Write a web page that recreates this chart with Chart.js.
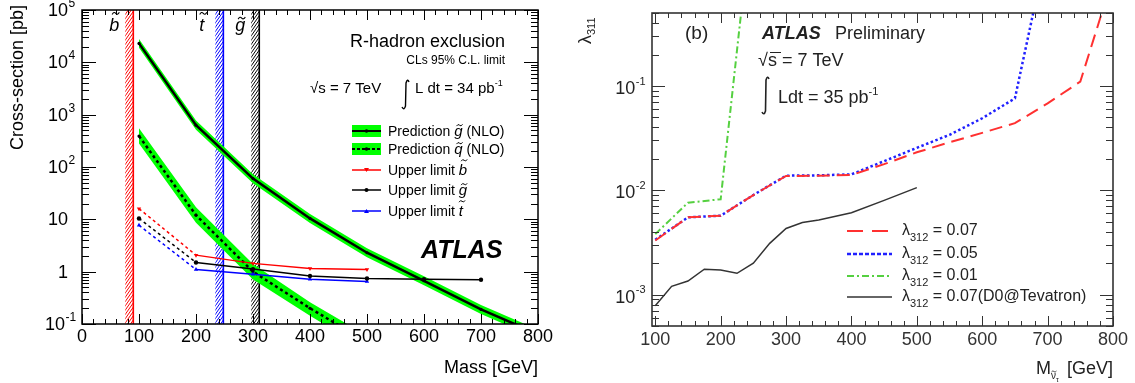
<!DOCTYPE html>
<html>
<head>
<meta charset="utf-8">
<script src="https://cdn.jsdelivr.net/npm/chart.js@4/dist/chart.umd.min.js"></script>
<style>
body { margin: 0; background: #fff; width: 1135px; height: 383px; overflow: hidden; position: relative; }
#leftBox { position: absolute; left: 0; top: 0; width: 560px; height: 383px; }
#rightBox { position: absolute; left: 560px; top: 0; width: 575px; height: 383px; }
</style>
</head>
<body>
<div id="leftBox"><canvas id="rhadronChart" width="560" height="383"></canvas></div>
<div id="rightBox"><canvas id="lambdaChart" width="575" height="383"></canvas></div>
<script>
var FONT = '"Liberation Sans", Arial, Helvetica, sans-serif';

// R-hadron cross-sections [pb] against mass [GeV]
var predMass = [100, 200, 300, 400, 500, 600, 700, 800];
var gluinoXsec = [23000, 630, 60, 10.4, 2.3, 0.67, 0.19, 0.064];
var gluinoXsecUp = [28000, 770, 73, 12.7, 2.8, 0.82, 0.23, 0.078];
var gluinoXsecDown = [18900, 515, 49, 8.5, 1.89, 0.55, 0.156, 0.052];
var squarkMass = [100, 200, 300, 400, 500];
var squarkXsec = [390, 12, 1.0, 0.2, 0.045];
var squarkXsecUp = [550, 17, 1.4, 0.26, 0.06];
var squarkXsecDown = [280, 8.6, 0.71, 0.143, 0.032];
var limitMass = [100, 200, 300, 400, 500];
var sbottomLimit = [16, 2.07, 1.44, 1.15, 1.1];
var stopLimit = [7.7, 1.1, 0.89, 0.72, 0.65];
var gluinoLimitMass = [100, 200, 300, 400, 500, 600, 700];
var gluinoLimit = [10.4, 1.5, 1.12, 0.83, 0.74, 0.72, 0.70];
var excludedMass = [90, 248, 311];
var excludedLetter = ['b', 't', 'g'];
var excludedColor = ['#ff0000', '#0000ff', '#000000'];
var massTicks = [0, 100, 200, 300, 400, 500, 600, 700, 800];
var xsecDecades = [-1, 0, 1, 2, 3, 4, 5];

// lambda_311 limits against sneutrino mass [GeV]
var d0Mass = [100, 125, 150, 175, 200, 225, 250, 275, 300, 325, 350, 400, 450, 500];
var d0Lambda = [7.8e-4, 1.2e-3, 1.35e-3, 1.75e-3, 1.72e-3, 1.6e-3, 2.0e-3, 3.1e-3, 4.3e-3, 4.9e-3, 5.2e-3, 6.1e-3, 8.0e-3, 1.06e-2];
var l007Mass = [100, 150, 200, 250, 300, 350, 400, 450, 500, 550, 600, 650, 700, 750, 800];
var l007Lambda = [3.3e-3, 5.5e-3, 5.7e-3, 9.0e-3, 1.37e-2, 1.38e-2, 1.40e-2, 1.78e-2, 2.31e-2, 2.88e-2, 3.55e-2, 4.4e-2, 6.8e-2, 0.11, 1.1];
var l005Mass = [100, 150, 200, 250, 300, 350, 400, 450, 500, 550, 600, 650, 700];
var l005Lambda = [3.35e-3, 5.5e-3, 5.7e-3, 9.0e-3, 1.38e-2, 1.39e-2, 1.42e-2, 1.9e-2, 2.55e-2, 3.4e-2, 4.9e-2, 7.6e-2, 2.2];
var l001Mass = [100, 150, 200, 250];
var l001Lambda = [3.8e-3, 7.6e-3, 8.2e-3, 5.9];
var sneutrinoTicks = [100, 200, 300, 400, 500, 600, 700, 800];
var lambdaDecades = [-3, -2, -1];
var lambdaLegend = ['0.07', '0.05', '0.01', '0.07(D0@Tevatron)'];

function xy(xs, ys) {
    return xs.map(function (x, i) { return {x: x, y: ys[i]}; });
}

function isMajor(v, step) {
    return Math.abs(v / step - Math.round(v / step)) < 1e-6;
}

// ROOT style frame: ticks on all four sides pointing inwards
function drawFrame(chart, st) {
    var ctx = chart.ctx, a = chart.chartArea;
    var xs = chart.scales.x, ys = chart.scales.y;
    var v, p, len;
    ctx.save();
    ctx.strokeStyle = st.color;
    ctx.lineWidth = 1;
    ctx.beginPath();
    for (v = Math.ceil(xs.min / st.xMinor) * st.xMinor; v <= xs.max + 1e-9; v += st.xMinor) {
        p = Math.round(xs.getPixelForValue(v)) + 0.5;
        len = isMajor(v, st.xMajor) ? st.xMajorLen : st.xMinorLen;
        ctx.moveTo(p, a.bottom); ctx.lineTo(p, a.bottom - len);
        ctx.moveTo(p, a.top); ctx.lineTo(p, a.top + len);
    }
    var d0 = Math.floor(Math.log10(ys.min)), d1 = Math.ceil(Math.log10(ys.max));
    for (var d = d0; d <= d1; d++) {
        for (var m = 1; m < 10; m++) {
            v = m * Math.pow(10, d);
            if (v < ys.min * 0.999 || v > ys.max * 1.001) continue;
            p = Math.round(ys.getPixelForValue(v)) + 0.5;
            len = m === 1 ? st.yMajorLen : st.yMinorLen;
            ctx.moveTo(a.left, p); ctx.lineTo(a.left + len, p);
            ctx.moveTo(a.right, p); ctx.lineTo(a.right - len, p);
        }
    }
    ctx.stroke();
    ctx.lineWidth = st.frameWidth;
    ctx.strokeRect(a.left, a.top, a.right - a.left, a.bottom - a.top);

    ctx.fillStyle = st.color;
    ctx.font = st.labelSize + 'px ' + FONT;
    ctx.textAlign = 'center';
    ctx.textBaseline = 'middle';
    st.xLabels.forEach(function (t) {
        ctx.fillText(String(t), xs.getPixelForValue(t), a.bottom + st.xLabelGap);
    });
    ctx.restore();
}

function drawPow(ctx, exp, baseRight, y, size, supSize) {
    ctx.textBaseline = 'middle';
    ctx.font = size + 'px ' + FONT;
    ctx.textAlign = 'right';
    ctx.fillText('10', baseRight, y);
    ctx.font = supSize + 'px ' + FONT;
    ctx.textAlign = 'left';
    ctx.fillText(exp, baseRight + 0.5, y - size * 0.4);
}

// italic sparticle letter with a tilde above it, returns its width
function tildeLetter(ctx, letter, x, y, size) {
    ctx.font = 'italic ' + size + 'px ' + FONT;
    ctx.textAlign = 'left';
    ctx.textBaseline = 'alphabetic';
    var w = ctx.measureText(letter).width;
    ctx.fillText(letter, x, y);
    var tall = 'bdtl'.indexOf(letter) >= 0;
    var ty = y - size * (tall ? 0.98 : 0.72);
    var tw = size * 0.4, th = size * 0.06;
    var cx = x + w * 0.5 + size * 0.08;
    ctx.save();
    ctx.strokeStyle = ctx.fillStyle;
    ctx.lineWidth = Math.max(1, size * 0.06);
    ctx.beginPath();
    ctx.moveTo(cx - tw / 2, ty + th);
    ctx.quadraticCurveTo(cx - tw / 4, ty - th * 2, cx, ty);
    ctx.quadraticCurveTo(cx + tw / 4, ty + th * 2, cx + tw / 2, ty - th);
    ctx.stroke();
    ctx.restore();
    return w;
}

function textRun(ctx, parts, x, y) {
    // parts: [text, font, dy]
    ctx.textAlign = 'left';
    ctx.textBaseline = 'alphabetic';
    parts.forEach(function (p) {
        ctx.font = p[1];
        ctx.fillText(p[0], x, y + (p[2] || 0));
        x += ctx.measureText(p[0]).width;
    });
    return x;
}

function integralSign(ctx, x, top, bottom, lw) {
    ctx.save();
    ctx.strokeStyle = ctx.fillStyle;
    ctx.lineWidth = lw;
    ctx.beginPath();
    ctx.moveTo(x + 7, top + 3);
    ctx.quadraticCurveTo(x + 5.5, top - 1, x + 4, top + 4);
    ctx.lineTo(x + 3.5, bottom - 4);
    ctx.quadraticCurveTo(x + 2, bottom + 1, x, bottom - 3);
    ctx.stroke();
    ctx.restore();
}

function hatchBand(ctx, a, xLeft, xRight, color) {
    var h = a.bottom - a.top;
    ctx.save();
    ctx.beginPath();
    ctx.rect(xLeft, a.top, xRight - xLeft, h);
    ctx.clip();
    ctx.strokeStyle = color;
    ctx.lineWidth = 1;
    ctx.beginPath();
    for (var x = xLeft - h * 0.7; x < xRight + 2; x += 3) {
        ctx.moveTo(x, a.bottom);
        ctx.lineTo(x + h * 0.7, a.top);
    }
    ctx.stroke();
    ctx.restore();
    ctx.save();
    ctx.strokeStyle = color;
    ctx.lineWidth = 1.6;
    ctx.beginPath();
    ctx.moveTo(xRight, a.top);
    ctx.lineTo(xRight, a.bottom);
    ctx.stroke();
    ctx.restore();
}

var rhadronDecor = {
    id: 'rhadronDecor',
    beforeDatasetsDraw: function (chart) {
        var ctx = chart.ctx, a = chart.chartArea, xs = chart.scales.x;
        excludedMass.forEach(function (m, i) {
            var xr = xs.getPixelForValue(m);
            hatchBand(ctx, a, xr - 8, xr, excludedColor[i]);
        });
    },
    afterDraw: function (chart) {
        var ctx = chart.ctx, a = chart.chartArea, xs = chart.scales.x, ys = chart.scales.y;
        drawFrame(chart, {
            color: '#000', frameWidth: 1.5, xMinor: 20, xMajor: 100, xMajorLen: 10, xMinorLen: 5,
            yMajorLen: 14, yMinorLen: 7, labelSize: 18, xLabels: massTicks, xLabelGap: 13
        });
        ctx.save();
        ctx.fillStyle = '#000';
        xsecDecades.forEach(function (d) {
            var py = ys.getPixelForValue(Math.pow(10, d));
            if (d === 0 || d === 1) {
                ctx.font = '18px ' + FONT;
                ctx.textAlign = 'right';
                ctx.textBaseline = 'middle';
                ctx.fillText(d === 0 ? '1' : '10', a.left - 14, py + 1);
            } else {
                drawPow(ctx, String(d), d < 0 ? a.left - 17 : a.left - 14, py + 1, 18, 12);
            }
        });

        // axis titles
        ctx.font = '18px ' + FONT;
        ctx.textAlign = 'right';
        ctx.textBaseline = 'middle';
        ctx.fillText('Mass [GeV]', a.right, 368);
        ctx.save();
        ctx.translate(23, 5);
        ctx.rotate(-Math.PI / 2);
        ctx.textBaseline = 'alphabetic';
        ctx.fillText('Cross-section [pb]', 0, 0);
        ctx.restore();

        // exclusion band symbols
        excludedMass.forEach(function (m, i) {
            var xr = xs.getPixelForValue(m);
            tildeLetter(ctx, excludedLetter[i], xr - 24, 31, 18);
        });

        // header text
        ctx.textAlign = 'right';
        ctx.textBaseline = 'middle';
        ctx.font = '18px ' + FONT;
        ctx.fillText('R-hadron exclusion', 505, 42);
        ctx.font = '12px ' + FONT;
        ctx.fillText('CLs 95% C.L. limit', 505, 61);
        textRun(ctx, [['\u221As = 7 TeV', '15px ' + FONT]], 310, 93);
        integralSign(ctx, 402, 79, 110, 1.4);
        textRun(ctx, [['L dt = 34 pb', '15px ' + FONT], ['-1', '9px ' + FONT, -7]], 415, 93);

        // ATLAS label
        ctx.font = 'italic bold 25px ' + FONT;
        ctx.textAlign = 'left';
        ctx.textBaseline = 'middle';
        ctx.fillText('ATLAS', 421, 251);

        // legend
        var rows = [131, 149, 170, 190, 211];
        var f = '14px ' + FONT;
        ctx.fillStyle = '#00ff00';
        ctx.fillRect(352, rows[0] - 6, 29, 12);
        ctx.fillRect(352, rows[1] - 6, 29, 12);
        ctx.lineWidth = 2;
        ctx.strokeStyle = '#000';
        ctx.beginPath(); ctx.moveTo(352, rows[0]); ctx.lineTo(381, rows[0]); ctx.stroke();
        ctx.setLineDash([3, 2]);
        ctx.beginPath(); ctx.moveTo(352, rows[1]); ctx.lineTo(381, rows[1]); ctx.stroke();
        ctx.setLineDash([]);
        ctx.fillStyle = '#000';
        ctx.beginPath(); ctx.arc(366.5, rows[0], 1.8, 0, 2 * Math.PI); ctx.fill();
        ctx.beginPath(); ctx.arc(366.5, rows[1], 1.8, 0, 2 * Math.PI); ctx.fill();
        var limColors = ['#ff0000', '#000000', '#0000ff'];
        var limLetters = ['b', 'g', 't'];
        for (var i = 0; i < 3; i++) {
            var ry = rows[i + 2];
            ctx.strokeStyle = limColors[i];
            ctx.fillStyle = limColors[i];
            ctx.lineWidth = 1.5;
            ctx.beginPath(); ctx.moveTo(352, ry); ctx.lineTo(381, ry); ctx.stroke();
            ctx.beginPath();
            if (i === 1) {
                ctx.arc(366.5, ry, 2, 0, 2 * Math.PI);
            } else if (i === 0) {
                ctx.moveTo(364, ry - 2); ctx.lineTo(369, ry - 2); ctx.lineTo(366.5, ry + 2);
            } else {
                ctx.moveTo(364, ry + 2); ctx.lineTo(369, ry + 2); ctx.lineTo(366.5, ry - 2);
            }
            ctx.fill();
        }
        ctx.fillStyle = '#000';
        var x = textRun(ctx, [['Prediction ', f]], 388, rows[0] + 5);
        x += tildeLetter(ctx, 'g', x, rows[0] + 5, 15);
        textRun(ctx, [[' (NLO)', f]], x, rows[0] + 5);
        x = textRun(ctx, [['Prediction ', f]], 388, rows[1] + 5);
        x += tildeLetter(ctx, 'q', x, rows[1] + 5, 15);
        textRun(ctx, [[' (NLO)', f]], x, rows[1] + 5);
        for (i = 0; i < 3; i++) {
            x = textRun(ctx, [['Upper limit ', f]], 388, rows[i + 2] + 5);
            tildeLetter(ctx, limLetters[i], x, rows[i + 2] + 5, 15);
        }
        ctx.restore();
    }
};

function firstDotted(c) {
    return c.p0DataIndex === 0 ? [3, 3] : undefined;
}

new Chart(document.getElementById('rhadronChart'), {
    type: 'line',
    data: {
        datasets: [
            {data: xy(predMass, gluinoXsecUp), borderWidth: 0, pointRadius: 0, fill: '+1', backgroundColor: '#00ff00', order: 10},
            {data: xy(predMass, gluinoXsecDown), borderWidth: 0, pointRadius: 0, fill: false, order: 10},
            {data: xy(squarkMass, squarkXsecUp), borderWidth: 0, pointRadius: 0, fill: '+1', backgroundColor: '#00ff00', order: 10},
            {data: xy(squarkMass, squarkXsecDown), borderWidth: 0, pointRadius: 0, fill: false, order: 10},
            {data: xy(predMass, gluinoXsec), borderColor: '#000', borderWidth: 2.5, pointRadius: 1.6, pointBackgroundColor: '#000', pointBorderWidth: 0, order: 3},
            {data: xy(squarkMass, squarkXsec), borderColor: '#000', borderWidth: 2.5, borderDash: [3, 3], pointRadius: 1.6, pointBackgroundColor: '#000', pointBorderWidth: 0, order: 3},
            {data: xy(limitMass, sbottomLimit), borderColor: '#ff0000', borderWidth: 1.5, pointStyle: 'triangle', rotation: 180, pointRadius: 2.5, pointBackgroundColor: '#ff0000', pointBorderWidth: 0, segment: {borderDash: firstDotted}, order: 1},
            {data: xy(gluinoLimitMass, gluinoLimit), borderColor: '#000', borderWidth: 1.5, pointRadius: 2.2, pointBackgroundColor: '#000', pointBorderWidth: 0, segment: {borderDash: firstDotted}, order: 1},
            {data: xy(limitMass, stopLimit), borderColor: '#0000ff', borderWidth: 1.5, pointStyle: 'triangle', pointRadius: 2.5, pointBackgroundColor: '#0000ff', pointBorderWidth: 0, segment: {borderDash: firstDotted}, order: 1}
        ]
    },
    options: {
        responsive: false,
        animation: false,
        devicePixelRatio: 1,
        layout: {padding: {left: 82, right: 22, top: 10, bottom: 59}},
        plugins: {legend: {display: false}, tooltip: {enabled: false}},
        elements: {line: {tension: 0}},
        scales: {
            x: {type: 'linear', min: 0, max: 800, display: false},
            y: {type: 'logarithmic', min: 0.1, max: 1e5, display: false}
        }
    },
    plugins: [rhadronDecor]
});

var lambdaStyles = [
    {color: '#ff3030', dash: [13, 7], width: 2},
    {color: '#2020ff', dash: [2.5, 2.5], width: 2.5},
    {color: '#55d040', dash: [7, 3, 2, 3], width: 2},
    {color: '#333333', dash: [], width: 1.5}
];

var lambdaDecor = {
    id: 'lambdaDecor',
    afterDraw: function (chart) {
        var ctx = chart.ctx, a = chart.chartArea, ys = chart.scales.y;
        var ink = '#222';
        drawFrame(chart, {
            color: '#333', frameWidth: 1.6, xMinor: 20, xMajor: 100, xMajorLen: 10, xMinorLen: 5,
            yMajorLen: 13, yMinorLen: 7, labelSize: 18, xLabels: sneutrinoTicks, xLabelGap: 14
        });
        ctx.save();
        ctx.fillStyle = ink;
        lambdaDecades.forEach(function (d) {
            var py = ys.getPixelForValue(Math.pow(10, d));
            ctx.font = '11px ' + FONT;
            var ew = ctx.measureText(String(d)).width;
            drawPow(ctx, String(d), a.left - 6 - ew - 1, py + 3, 18, 11);
        });

        // axis titles
        ctx.save();
        ctx.translate(31, 44);
        ctx.rotate(-Math.PI / 2);
        textRun(ctx, [['\u03BB', '18px ' + FONT], ['311', '11px ' + FONT, 4]], 0, 0);
        ctx.restore();

        ctx.font = '18px ' + FONT;
        var wM = ctx.measureText('M').width;
        var wG = ctx.measureText(' [GeV]').width;
        var xStart = a.right - wG - wM - 11;
        textRun(ctx, [['M', '18px ' + FONT]], xStart, 374);
        textRun(ctx, [['\u03BD', '10px ' + FONT]], xStart + wM, 379);
        textRun(ctx, [['\u03C4', '7px ' + FONT]], xStart + wM + 5, 382);
        ctx.save();
        ctx.strokeStyle = ink; ctx.lineWidth = 0.8;
        ctx.beginPath();
        ctx.moveTo(xStart + wM + 0.5, 372); ctx.quadraticCurveTo(xStart + wM + 2, 370, xStart + wM + 3, 371.5);
        ctx.quadraticCurveTo(xStart + wM + 4, 373, xStart + wM + 5.5, 371);
        ctx.stroke();
        ctx.restore();
        textRun(ctx, [[' [GeV]', '18px ' + FONT]], a.right - wG, 374);

        // header
        ctx.textBaseline = 'middle';
        ctx.textAlign = 'left';
        ctx.font = '19px ' + FONT;
        ctx.fillText('(b)', 125, 34);
        ctx.font = 'italic bold 18px ' + FONT;
        ctx.fillText('ATLAS', 202, 34);
        ctx.font = '18px ' + FONT;
        ctx.fillText('Preliminary', 275, 34);
        ctx.fillText('\u221As = 7 TeV', 198, 61);
        ctx.save();
        ctx.strokeStyle = ink; ctx.lineWidth = 1;
        ctx.beginPath(); ctx.moveTo(210, 52.5); ctx.lineTo(221, 52.5); ctx.stroke();
        ctx.restore();
        integralSign(ctx, 202, 76, 115, 1.6);
        textRun(ctx, [['Ldt = 35 pb', '18px ' + FONT], ['-1', '11px ' + FONT, -8]], 218, 103);

        // legend
        var rows = [231, 254, 276, 297];
        for (var i = 0; i < 4; i++) {
            var s = lambdaStyles[i];
            ctx.strokeStyle = s.color;
            ctx.lineWidth = s.width;
            ctx.setLineDash(i === 1 ? [4, 2] : (i === 0 ? [16, 9] : s.dash));
            ctx.beginPath(); ctx.moveTo(287, rows[i]); ctx.lineTo(332, rows[i]); ctx.stroke();
            ctx.setLineDash([]);
            textRun(ctx, [['\u03BB', '16px ' + FONT], ['312', '11px ' + FONT, 6], [' = ' + lambdaLegend[i], '16px ' + FONT]], 342, rows[i] + 4);
        }
        ctx.restore();
    }
};

var lambdaSeries = [[l007Mass, l007Lambda], [l005Mass, l005Lambda], [l001Mass, l001Lambda], [d0Mass, d0Lambda]];

new Chart(document.getElementById('lambdaChart'), {
    type: 'line',
    data: {
        datasets: lambdaSeries.map(function (s, i) {
            return {
                data: xy(s[0], s[1]),
                borderColor: lambdaStyles[i].color,
                borderDash: lambdaStyles[i].dash,
                borderWidth: lambdaStyles[i].width,
                pointRadius: 0,
                fill: false
            };
        })
    },
    options: {
        responsive: false,
        animation: false,
        devicePixelRatio: 1,
        layout: {padding: {left: 92, right: 22, top: 13, bottom: 57}},
        plugins: {legend: {display: false}, tooltip: {enabled: false}},
        elements: {line: {tension: 0}},
        scales: {
            x: {type: 'linear', min: 95, max: 800, display: false},
            y: {type: 'logarithmic', min: 5e-4, max: 0.5, display: false}
        }
    },
    plugins: [lambdaDecor]
});
</script>
</body>
</html>
